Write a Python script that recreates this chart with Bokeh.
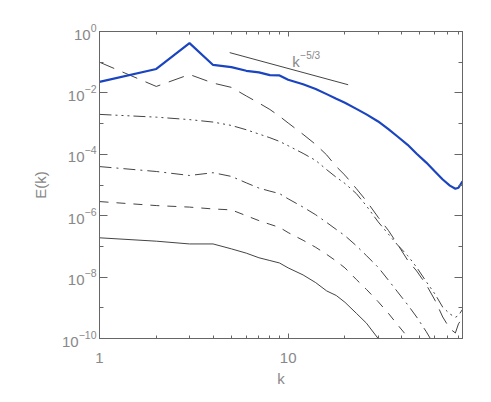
import numpy as np
from bokeh.plotting import figure
from bokeh.models import (FixedTicker, LogAxis, LogTickFormatter, Label, Range1d)
from bokeh.embed import file_html
from bokeh.resources import INLINE

# wavenumbers at which values were read
k = [1, 2, 3, 4, 5, 6, 7, 8, 9, 10, 12, 14, 16, 18, 20, 23, 26, 30, 34, 38,
     43, 48, 54, 60, 66, 72, 77, 80, 84]

# log10 E(k) for each curve
blue_log = [-1.64, -1.22, -0.38, -1.09, -1.16, -1.28, -1.33, -1.42, -1.43, -1.57,
            -1.72, -1.87, -2.04, -2.19, -2.32, -2.52, -2.70, -2.93, -3.18, -3.42,
            -3.69, -3.98, -4.27, -4.56, -4.82, -5.02, -5.12, -5.09, -4.88]
longdash_log = [-1.00, -1.79, -1.40, -1.68, -1.82, -2.10, -2.33, -2.54, -2.76, -2.98,
                -3.35, -3.68, -4.02, -4.40, -4.68, -5.12, -5.52, -6.05, -6.48, -6.93,
                -7.45, -7.80, -8.25, -8.75, -9.30, -9.68, -9.82, -9.52, -9.33]
dash3dot_log = [-2.70, -2.79, -2.87, -2.95, -3.06, -3.20, -3.34, -3.46, -3.58, -3.72,
                -3.97, -4.20, -4.50, -4.75, -4.95, -5.28, -5.68, -6.20, -6.60, -6.95,
                -7.30, -7.68, -8.15, -8.55, -8.98, -9.20, -9.31, -9.25, -9.05]
dashdot_k = [1, 2, 3, 4, 5, 6, 7, 8, 9, 10, 12, 14, 16, 18, 20, 23, 26, 30, 34, 38,
             43, 48, 54, 60]
dashdot_log = [-4.40, -4.56, -4.69, -4.60, -4.72, -4.93, -5.10, -5.20, -5.28, -5.45,
               -5.72, -5.97, -6.22, -6.45, -6.65, -6.98, -7.30, -7.68, -8.10, -8.48,
               -8.90, -9.30, -9.78, -10.25]
dash_k = [1, 2, 3, 4, 5, 6, 7, 8, 9, 10, 12, 14, 16, 18, 20, 23, 26, 30, 34, 38, 43, 48]
dash_log = [-5.54, -5.67, -5.72, -5.78, -5.81, -6.00, -6.16, -6.28, -6.38, -6.55,
            -6.80, -7.03, -7.26, -7.48, -7.70, -8.08, -8.40, -8.80, -9.18, -9.55,
            -9.95, -10.30]
solid_k = [1, 2, 3, 4, 5, 6, 7, 8, 9, 10, 12, 14, 16, 18, 20, 23, 26, 30, 34]
solid_log = [-6.72, -6.83, -6.92, -6.92, -7.08, -7.22, -7.37, -7.46, -7.54, -7.70,
             -7.93, -8.18, -8.45, -8.60, -8.82, -9.18, -9.50, -10.00, -10.40]

# reference slope line k^-5/3
ref_k = [4.9, 20.8]
ref_amp = 2.9
ref_slope = -5.0 / 3.0

y_major = [1e-10, 1e-8, 1e-6, 1e-4, 1e-2, 1e0]
y_minor = [1e-9, 1e-7, 1e-5, 1e-3, 1e-1]
x_major = [1, 10]
x_minor = [2, 3, 4, 5, 6, 7, 8, 9, 20, 30, 40, 50, 60, 70, 80]

GRAY = "#888888"
FRAME = "#666666"
LINE = "#444444"
FONT = "Liberation Sans"

p = figure(width=483, height=394, x_axis_type="log", y_axis_type="log",
           x_range=Range1d(1, 84), y_range=Range1d(1e-10, 1),
           output_backend="svg", toolbar_location=None,
           min_border_left=99, min_border_right=21, min_border_top=31,
           min_border_bottom=56)
p.grid.visible = False
p.outline_line_color = FRAME
p.background_fill_color = "white"
p.border_fill_color = "white"

def tw(v):
    return [10.0 ** x for x in v]

p.line(solid_k, tw(solid_log), line_color=LINE, line_width=1)
p.line(dash_k, tw(dash_log), line_color=LINE, line_width=1, line_dash="9 8")
p.line(dashdot_k, tw(dashdot_log), line_color=LINE, line_width=1, line_dash="12 5 2 5")
p.line(k, tw(dash3dot_log), line_color=LINE, line_width=1,
       line_dash="12 4 2 4 2 4 2 4")
p.line(k, tw(longdash_log), line_color=LINE, line_width=1, line_dash="16 9")
p.line(k, tw(blue_log), line_color="#1a44c0", line_width=2.2)
p.line(ref_k, [ref_amp * kk ** ref_slope for kk in ref_k], line_color=LINE, line_width=1)

p.add_layout(Label(x=10.5, y=10 ** -0.98, text="k", text_color=GRAY,
                   text_font=FONT, text_font_size="15px", text_baseline="alphabetic"))
p.add_layout(Label(x=11.6, y=10 ** -0.77, text="\u22125/3", text_color=GRAY,
                   text_font=FONT, text_font_size="10px", text_baseline="alphabetic"))

def style_axis(ax, major, minor, fmt, show_labels, major_len, minor_len):
    ax.ticker = FixedTicker(ticks=major, minor_ticks=minor)
    ax.formatter = fmt
    ax.axis_line_color = FRAME
    ax.major_tick_line_color = FRAME
    ax.minor_tick_line_color = FRAME
    ax.major_tick_in = major_len
    ax.major_tick_out = 0
    ax.minor_tick_in = minor_len
    ax.minor_tick_out = 0
    ax.major_label_text_color = GRAY
    ax.major_label_text_font = FONT
    ax.axis_label_text_color = GRAY
    ax.axis_label_text_font = FONT
    ax.axis_label_text_font_size = "15px"
    ax.axis_label_text_font_style = "normal"
    if show_labels:
        ax.major_label_text_font_size = "15px"
    else:
        ax.major_label_text_font_size = "2px"
        ax.major_label_text_alpha = 0.0
        ax.major_label_standoff = 0

xb = p.xaxis[0]
style_axis(xb, x_major, x_minor, LogTickFormatter(min_exponent=2), True, 5, 3)
xb.axis_label = "k"
xb.major_label_standoff = 14
xb.axis_label_standoff = 4

yl = p.yaxis[0]
style_axis(yl, y_major, y_minor, LogTickFormatter(), True, 8, 4)
yl.axis_label = "E(k)"
yl.major_label_standoff = 3
yl.axis_label_standoff = 10

xt = LogAxis()
style_axis(xt, x_major, x_minor, LogTickFormatter(min_exponent=2), False, 5, 3)
p.add_layout(xt, "above")
yr = LogAxis()
style_axis(yr, y_major, y_minor, LogTickFormatter(), False, 8, 4)
p.add_layout(yr, "right")

open("out.html", "w").write(file_html(p, INLINE))
